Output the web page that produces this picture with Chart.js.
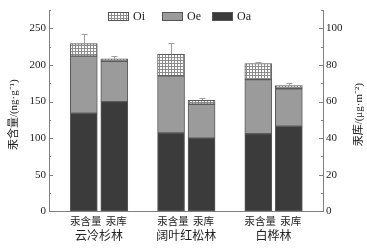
<!DOCTYPE html>
<html><head><meta charset="utf-8">
<script src="https://cdn.jsdelivr.net/npm/chart.js@4/dist/chart.umd.min.js"></script>
<style>html,body{margin:0;padding:0;background:#fff}#wrap{width:367px;height:248px}</style>
</head><body><div id="wrap"><canvas id="c" width="367" height="248"></canvas></div>
<script>
// ---- data ----
const forests = ['云冷杉林', '阔叶红松林', '白桦林'];
const barLabels = ['汞含量', '汞库'];
const layers = ['Oa', 'Oe', 'Oi'];
// mercury content (ng·g-1), left axis
const contentOa = [134, 107, 106];
const contentOe = [78, 78, 74];
const contentOi = [17, 29.5, 22];
const contentErr = [13, 16, 2];
// mercury pool (µg·m-2), right axis
const poolOa = [60, 40, 46.5];
const poolOe = [22, 18.5, 20.5];
const poolOi = [1.3, 2.2, 1.7];
const poolErr = [1.4, 1, 1.4];
const leftTicks = [0, 50, 100, 150, 200, 250];
const rightTicks = [0, 20, 40, 60, 80, 100];
const leftTitle = '汞含量/(ng·g⁻¹)';
const rightTitle = '汞库/(μg·m⁻²)';

// ---- layout helpers ----
const GROUP = 2.86;
const X_MIN = -1.14, X_MAX = 7.84;
const FONT = '"Liberation Serif","Noto Sans CJK SC",serif';
const AXIS_COLOR = '#808080';
const canvas = document.getElementById('c');
const ctx0 = canvas.getContext('2d');

function hatch() {
  const c = document.createElement('canvas');
  c.width = 3; c.height = 3;
  const x = c.getContext('2d');
  x.fillStyle = '#ffffff'; x.fillRect(0, 0, 3, 3);
  x.fillStyle = '#8c8c8c'; x.fillRect(0, 0, 3, 1); x.fillRect(0, 0, 1, 3);
  return ctx0.createPattern(c, 'repeat');
}
const colors = { Oa: '#3b3b3b', Oe: '#9b9b9b', Oi: hatch() };

function mk(label, vals, axis, off) {
  return {
    label: label,
    data: vals.map((v, g) => ({ x: g * GROUP + off, y: v })),
    yAxisID: axis, stack: 's',
    backgroundColor: colors[label], borderColor: '#5a5a5a', borderWidth: 1,
    borderSkipped: false, barThickness: 27
  };
}
const datasets = [
  mk('Oa', contentOa, 'y', 0), mk('Oe', contentOe, 'y', 0), mk('Oi', contentOi, 'y', 0),
  mk('Oa', poolOa, 'y1', 1), mk('Oe', poolOe, 'y1', 1), mk('Oi', poolOi, 'y1', 1)
];
const barPositions = [];
forests.forEach((f, g) => barLabels.forEach((b, j) => barPositions.push(g * GROUP + j)));
const groupCenters = forests.map((f, g) => g * GROUP + 0.5);

const extras = {
  id: 'extras',
  afterDatasetsDraw(chart) {
    const ctx = chart.ctx;
    const specs = [
      { ds: 2, axis: 'y', parts: [contentOa, contentOe, contentOi], err: contentErr },
      { ds: 5, axis: 'y1', parts: [poolOa, poolOe, poolOi], err: poolErr }
    ];
    ctx.save();
    ctx.strokeStyle = '#a0a0a0'; ctx.lineWidth = 1;
    specs.forEach(s => {
      const meta = chart.getDatasetMeta(s.ds);
      const sc = chart.scales[s.axis];
      meta.data.forEach((el, g) => {
        const total = s.parts.reduce((a, p) => a + p[g], 0);
        const y0 = sc.getPixelForValue(total);
        const y1 = Math.round(sc.getPixelForValue(total + s.err[g])) + 0.5;
        const x = Math.round(el.x) + 0.5;
        ctx.beginPath();
        ctx.moveTo(x, y0); ctx.lineTo(x, y1);
        ctx.moveTo(x - 3, y1); ctx.lineTo(x + 3, y1);
        ctx.stroke();
      });
    });
    ctx.restore();
  },
  afterDraw(chart) {
    const ctx = chart.ctx, a = chart.chartArea;
    ctx.save();
    ctx.strokeStyle = AXIS_COLOR; ctx.lineWidth = 1;
    const ys = chart.scales.y, yr = chart.scales.y1;
    ctx.beginPath();
    for (let v = 0; v <= ys.max + 0.001; v += 25) {
      const py = Math.round(ys.getPixelForValue(v)) + 0.5;
      const len = leftTicks.includes(v) ? 4 : 2;
      ctx.moveTo(a.left, py); ctx.lineTo(a.left + len, py);
    }
    for (let v = 0; v <= yr.max + 0.001; v += 10) {
      const py = Math.round(yr.getPixelForValue(v)) + 0.5;
      const len = rightTicks.includes(v) ? 4 : 2;
      ctx.moveTo(a.right, py); ctx.lineTo(a.right - len, py);
    }
    ctx.stroke();
    ctx.fillStyle = '#222';
    ctx.font = '11px ' + FONT;
    ctx.textAlign = 'center'; ctx.textBaseline = 'middle';
    const cy = (a.top + a.bottom) / 2 + 4;
    [[14, leftTitle], [359, rightTitle]].forEach(([x, t]) => {
      ctx.save(); ctx.translate(x, cy); ctx.rotate(-Math.PI / 2); ctx.fillText(t, 0, 0); ctx.restore();
    });
    const items = [['Oi', 59], ['Oe', 113], ['Oa', 163]];
    ctx.font = '12px ' + FONT;
    ctx.textAlign = 'left';
    items.forEach(([lab, off]) => {
      const x = a.left + off, y = 12;
      ctx.fillStyle = colors[lab];
      ctx.fillRect(x, y, 21, 9);
      ctx.strokeStyle = '#555'; ctx.strokeRect(x + 0.5, y + 0.5, 20, 8);
      ctx.fillStyle = '#222';
      ctx.fillText(lab, x + 25, y + 5);
    });
    ctx.restore();
  }
};

Chart.defaults.font.family = FONT;
Chart.defaults.color = '#222';

new Chart(canvas, {
  type: 'bar',
  data: { datasets: datasets },
  options: {
    responsive: false, animation: false, devicePixelRatio: 1,
    layout: { padding: { top: 10, left: 0, right: 0, bottom: 0 } },
    plugins: { legend: { display: false }, tooltip: { enabled: false } },
    scales: {
      x: {
        type: 'linear', position: 'bottom', stacked: true, min: X_MIN, max: X_MAX, offset: false,
        grid: { display: false, drawTicks: false, offset: false },
        border: { display: true, color: AXIS_COLOR, width: 1 },
        afterBuildTicks: s => { s.ticks = barPositions.map(v => ({ value: v })); },
        afterFit: s => { s.height = 16; },
        ticks: { autoSkip: false, maxRotation: 0, padding: 5, font: { size: 10.5 },
          labelOffset: c => (c.index % 2 === 0 ? -2.5 : 2),
          callback: (v, i) => barLabels[i % 2] }
      },
      x2: {
        type: 'linear', position: 'bottom', min: X_MIN, max: X_MAX, offset: false,
        grid: { display: false, drawTicks: false, offset: false },
        border: { display: false },
        afterBuildTicks: s => { s.ticks = groupCenters.map(v => ({ value: v })); },
        afterFit: s => { s.height = 20.6; },
        ticks: { autoSkip: false, maxRotation: 0, padding: 2, font: { size: 12 },
          callback: (v, i) => forests[i] }
      },
      y: {
        position: 'left', stacked: true, min: 0, max: 275,
        grid: { display: true, drawOnChartArea: false, drawTicks: false },
        border: { display: true, color: AXIS_COLOR, width: 1 },
        afterBuildTicks: s => { s.ticks = leftTicks.map(v => ({ value: v })); },
        afterFit: s => { s.width = 49; },
        ticks: { padding: 3, font: { size: 11 } }
      },
      y1: {
        position: 'right', stacked: true, min: 0, max: 110,
        grid: { display: true, drawOnChartArea: false, drawTicks: false },
        border: { display: true, color: AXIS_COLOR, width: 1 },
        afterBuildTicks: s => { s.ticks = rightTicks.map(v => ({ value: v })); },
        afterFit: s => { s.width = 44; },
        ticks: { padding: 3, font: { size: 11 } }
      }
    }
  },
  plugins: [extras]
});
</script>
</body></html>
